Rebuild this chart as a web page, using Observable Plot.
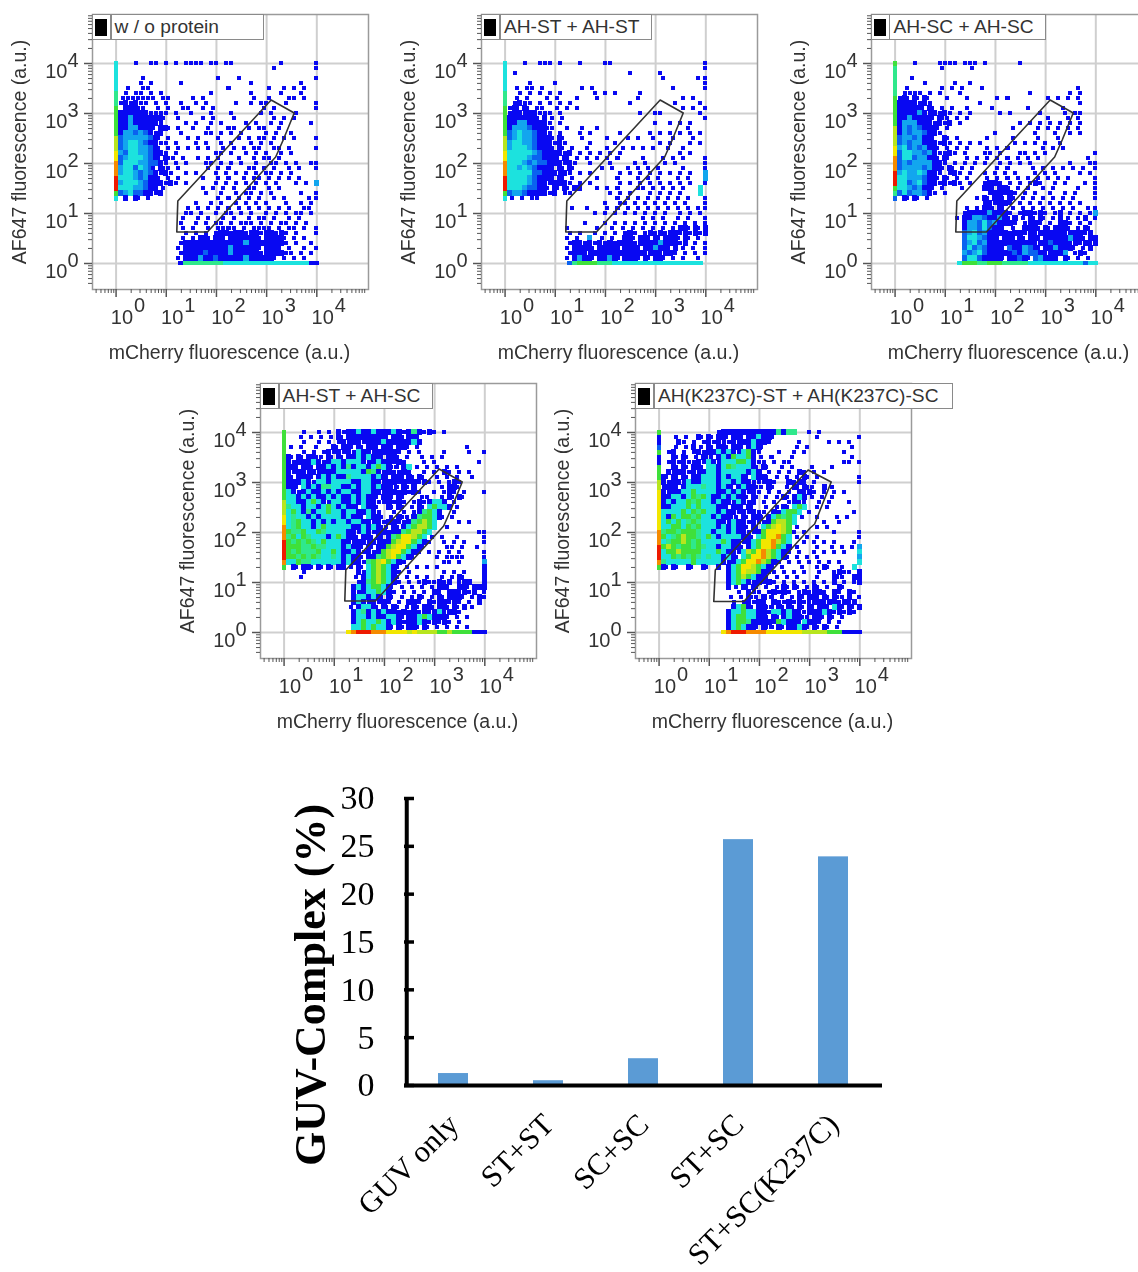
<!DOCTYPE html>
<html><head><meta charset="utf-8">
<script src="https://cdn.jsdelivr.net/npm/d3@7"></script>
<script src="https://cdn.jsdelivr.net/npm/@observablehq/plot@0.6"></script>
<style>
html,body{margin:0;padding:0;background:#fff}
#page{position:relative;width:1138px;height:1272px;overflow:hidden;background:#fff}
.panel{position:absolute;width:460px;height:370px;filter:blur(.45px)}
.panel svg{display:block;overflow:visible;background:transparent;max-width:none}
.legend{position:absolute;box-sizing:border-box;height:26px;background:#fff;border:1.5px solid #8a8a8a;display:flex;align-items:center;font:19.2px "Liberation Sans",sans-serif;color:#333;white-space:nowrap}
.legend i{display:block;width:12px;height:17px;background:#000;margin:0 3px 0 2px}
.legend b{display:block;width:1.5px;height:100%;background:#8a8a8a;margin-right:3px}
.bars{position:absolute;width:1138px;filter:blur(.3px)}
.bars svg{display:block;overflow:visible;background:transparent;max-width:none}
</style></head><body><div id="page"></div>
<script>
// Scatter occupancy: rows are AF647 log10 = 4.0 down to 0.1, columns mCherry log10 = 0.1 to 4.0.
// '.' empty, 1 a lone event, b..8 rising density.
const gridNoProtein = [
"...1..11.1 .1.1111.1 1.11...... ...1...... 1.1.1..11",
".......... .......... .......... .1.......1",".......... .......... .......... ..........",
".....1.... .......... 1...1..... .........1","....1.1... ..1....... ......1... ......1...",
"..1..11... .......... ..1....... 1..1.1.1..",".1.11.1.1. ........1. ......1... ..1...1...",
".1111111.1 1....1.1.. .......1.. 1...11.1..","1b1b11.1.1 ..1..1.1.. ...1..1.11 ...1.....1",
".bbb11..1. 1..11..1.1 .........1 .1.......1","bbbbbb1111 .1..1...1. ..1.....1. 1....1....",
"bb2bbbbbb1 ..1....1.1 ...1...... .1.1.1....","bb2bbbbb1. ...1.1..1. 1....1.1.. 1.1.....1.",
"bb22bbb1bb 1.1..1..1. ..11..1.11 ..1.......","b22a2ab1b. ..1....11. 1.1.1....1 .1..1.....",
"a22222ab1. 1...1.1... 1...1.1.11 .1.1.1...1","a2332abb11 .1...1.1.. 1.1...1.1. 1.........",
"a23322ab1. 1.1.1.1.1. .1.1.1.11. .11.1....1","2a3322abb1 .1.......1 1.1..1.1.1 ..1.1.....",
"a23332ab1b 11.1..1.1. 1...1..1.1 1.1.......","a33322aab1 .1.1...11. 1.1.1..1.. 11.1.1..11",
"233a32a1b1 1.1.....1. 1.1...11.1 .1..1.1..1","2332a2ab1b 1..1.1...1 .1.1.1.1.1 1.1.1.....",
"3332a2bb1. 1.1....1.. 1.1..1.11. 1.1.1.1...","23332abbb1 b1.1.....1 .1.1.1.1.1 .1...1.1.2",
"33322abb.1 .......1.1 .1.1..11.. 1.1.......","a23aabb1b. .......1.. 1..1.11.1. 1.....1..1",
".b.b1.1... .......... 1.1.1.1.1. .1.1....11",".......... .....1..1. 1..1.1.1.1 ...1..1.1.",
".......... ....1.1.1. 1.1.1.1.1. 1.1.1..11.",".......... ...11.1..1 .11.1.1..1 .1.1.11.1.",
".......... ...1..1.1. .1.1..1.11 .1..1.1...",".......... ..1..1.1.1 1.1.111.1. 1.11.1.1..",
".......... ...1.1..1. 1111.1.111 1.1.11.1.1",".......... ...1.1.1.1 bb1bb1bb1b b1b1.1...1",
".......... ...1.1bb1b b1bbbbbb1b bbb1.1.1..",".......... ..1bbbbbbb bbbbb2bbbb bbb1.1..1.",
".......... ..1bbbbbbb bb2bbbbb1b bb1.1..1.1",".......... ..1bbbbabb bb2bbbbb1b bbb11.1.1.",
".......... ..1bbb2bba bbbbb2bbbb b1.1.1.1.."];
const gridSTST = [
"...1..111. 1...1....1 1......... .........1",".......... .......... .......... .........1",
".1........ .......... ....1..... 1.........",".......... .......... .......... .1......11",
"....1....1 .......... .......... .........1","..1.11.1.. .....1.1.. .......... ...1.....1",
"..1.1.1.1. 1......1.1 .1....1... ..........","..1.1...1. 1...1...1. ......1... .....1.1..",
".1b11.1.1. 1.1....... ....1..... ...1....1.","1b1b1.11.. 1.1.1..... .......... .....1.1.1",
"1bb1bb111. 1......... ......1..1 1.......1.","bbbbbb1b.1 .1........ .......... .........1",
"bb22bbbb1. 1......... .........1 ..1.1.1...","b222abbb11 ..1..1..1. .......... ......1...",
"a2322abb1. 1...1.1... ..1.....1. 1.1.1.1.1.","a2322abbb1 b1...1.... 1...1.1..1 ...1...1..",
"23322abbb1 b1....1... .1........ 1.1...1.1.","23332abbb1 b1.1..1... 1..1.1.1.1 ..1..1....",
"333332abbb b1b.1.1.1. 1.1....... ....1.1...","33332aabbb 1b1.1.1.1. 1.1....1.. .1.1.1...1",
"3332a2aabb b1b1..1... 1....1.1.. .1.1.....1","33232abbb1 b1b1.....1 .1..1.1.1. 1....1...1",
"33333aabbb 1b1.1.1... ..1.1.1.1. 1.1.1.1..2","33332abbb1 b1.1....1. ..1...1.1. 1...1.1..2",
"33332abb1b bb1.1.1... ..1.1.1.1. 1.1.1.1..1","3332aabb1b 1b1bb...1. 1.1...11.1 .1.1.1..3.",
"a22abbbb1b .11....... 1.1.1...1. 1.1.1...3.",".1.1.11... .......... ..1.1.1.1. 1.1.1.1..1",
".......... .........1 ..11.1.1.1 .1.1.1...1",".......... ...1..1... 1.1.1.1.1. 1.1.1.1.11",
".......... .......1.1 .1.1.1.1.1 .1..1.1.1.",".......... .......... .......1.1 .1..1.1..1",
".......... .....1...1 .1.1.1.1.1 .1.1.1.1.1",".......... ..1.....1. .1.1.1.1.1 .1.1bb1b1b",
".......... ..1.1..1.1 .1.1b1.1b1 b1bb1b1b1b",".......... ..1.1.2..1 .1.bb1bb1b 1bbb1b1.1.",
".......... ..1bb1b1b1 b1bbb1bbbb 2bbb1b.1.1",".......... ..1bbbb1bb bb1bbb1bb2 bb1b.1.1.1",
".......... ..1bbb1bbb b1b1bbb1bb 1bb1.1.1.1",".......... ..1b2bb1bb 2b1bbb1b1b b1.1.1..1."];
const gridSCSC = [
"...1....11 11.111.1.. ....1..... ..........",".........1 .....1.... .......... ..........",
".......... .......... .......... ..........","...1...... .......... .......... ..........",
".....1.... .1..1..... .......... ..........","..1......1 .1.1...1.. .......... ......1...",
".1111.1.1. ..1....... ......1... ....1.1...","1b1b1b1... 1...1..... 1.1....... 1.1.1.1...",
"bbbb1b1... ......1... .......... ......1...","bbbbb1b1.1 .1..1....1 ......1... ...1......",
"bbbb2b1b1b 1.1.1..... 1.1.....1. ...1.11...","bb2bbbb1b1 1.1.1..... .......... 1...1.1...",
"b222bbb1b1 b.1....... ....1.1.1. 1.1.1.1...","b2a2abbb1. 1......... ...1....1. 1.1.1.1...",
"b2a22abb1. .........1 .......1.. .1..1.1...","a22a2bb1.b 1.1.....1. ...1....1. ..1.......",
"a2a22bbb1b 1.1.1.1... ...1.1.1.1 ..1.......","23a2a2bb1. 1.1.1...1. 1.1......1 .1.1......",
"a3322a2b11 b1.1...11. 1...11.1.1 .........1","a33a22bb1b 1...1.1.1. 1.1.1.1.1. ........1.",
"a2a2222bb1 .1.1.1.1.. 1.1.1.1... ....1...11","a2222a2bb1 b1.1.1.... 1.1....1.1 .1.1.1.1.1",
"232232bb1. 1b1.1..1.1 .1.1...1.1 .1....1.1.","33222abb1b 1.1.1...1. 1.1.1.1.1. 1.1.1....1",
"33a23abb1b 1b1.1..1bb 1.1.1.1b1. .1.1...1.1","332a2bb1.1 ...1...bb1 bb1.1.1..1 .1....1..1",
"a3a22ab1.1 ........1b b1b1.1.1.. 1..1.1...1",".b1b1.1... ......1b1b b1b1.1.1.1 .1.1.1...1",
".......... .......1b1 bb1.1.1.1. 1.1.1.1...",".......... ....1.1bb1 b1.1.1.1.1 .1.1.1..11",
".......... ...1bbbb2b bb1.1bb1b1 .1b.1.1.12",".......... ..1bb22abb 2b1b.1b1b1 .1b.1.1b.1",
".......... ...b22a3a2 bbb1.1bb1. 1.bb1.1.1.",".......... ...b22a3ab b1.1.bbb1b 1bbb1.1b1.",
".......... ...a23a2bb bb1bb1b1bb bbb1bbb1b.",".......... ...a332abb 1bb1b1bb1b bbbb2bb1bb",
".......... ...a23a2bb bb1b1bb1bb abbb1b1b1b",".......... ...a3a2abb b1abb2ab1b b2bbb1.1b.",
".......... ...2a23abb 1b1ab2aab1 bbb2.1b1..",".......... ...a33abbb b1bbab1a2b bb.b1.1.1."];
const gridSTSC = [
"...1..1.1. b1bb3bb3bb b3b1b4b1b1 .1........","...1.1.1.1 b1bbbbbbbb 1bb1bb1.. ..........",
"...1..1.1. 1b1bb1bbb3 bb1bb3b... ..........",".1.1..1..b 1bb1b1bb1b b1bb1.1.. .......1..",
"...1.1.1b1 b1b13bb1bb 1b1.1.1... .1....1..1","b1b1bb11b1 b1bb3b3bb1 bb1.1..1.1 .1........",
"b1bbb3b1b3 3b333b1b3b b1b1...1.1 ........1.","bb1bb1bb3b 3b4b33b3g3 b11b3.1.1. 1.1.1.....",
"b1bb1b1bbb 33333bg4b1 b11b1..1.1 .b1.1.1...","b1bbb1b3b3 bb43333b3b 1bb1b1b1.. 1.1.1..1..",
"bbb3b133b3 333bb33bb1 bb1b1b1b1. 1.1b1.....","bb13b3b443 3bb3b33b3b b11b1b.... .1bb1.....",
"3b1b3bb3b3 b33bb33bb1 bb1b1b1..1 .1b1.1...1","33b3b3bb3b 3bb3b3bb1b b1b1...11. .1b1b1....",
"33bb3g3b13 3bb3b3bb11 b1b1.1b1b3 3b.1......","433b33b3g3 b3bb13bb1. b1b1.1b13g 33b.1.....",
"3g3b4b33g3 3b33bb3b1. .1.1.1b4g3 b..1......","3433b3b333 3b3bb13bb1 .1b11b4gg3 b1.1......",
"34g33b3b3b 33b33bb1b1 bb11b4g5g3 ....1.1...","34g33b3g33 333bb3b3b1 1b1b3g55g3 ..1.......",
"g44g33g433 33bb13b1bb 1bb4g55g3. ........11","4g3g4333b3 g3bb1bb1b1 b4g665g3.1 .1..1....1",
"g4g4g43g33 3bb1bb1b1b bg566g3b1. .1.1.1...1","ggg44g4433 3b3bb1b1bb g566g3b1.. ..11.1..1.",
"g4g444g33g 3bb3b1b1bg 566g3b1.1. 1.1.1....1","gg4g4g4334 3b3bb1bb4g 56g3b1.... 1.1111...1",
"33g4433333 3b3bb14g56 g3b1...... .11.1....2",".b1bb1b1b1 bb.1b13g5g 3b1.1.1.1. 1........b",
"...1...... ....b13g5g 3b1.1..... .1.1.1...b","...1...... ....1b3g5g 3b1.1.1.1. .1.1b1...b",
".......... ....1b4g5g 3b1.1.1b11 b1b.1bb..b",".......... ...b3b3gg3 b1.1.1.1.1 bb1.bb1bbb",
".......... ...b1b33g3 b1.1.1.1.b 1.bb1b1b.1",".......... ...b33b3b1 b1.1.1b1.1 b1bbb1.1b1",
".......... ...b3b1b1b 1.1.bb1.b1 bb1b1.1.b.",".......... ...1b33b1b 1b1.1b1bb1 bb1b1b.1..",
".......... ...b34b3b3 bb1b1b1b1b 31bb1.....",".......... ...b33b3bb 33b1bb3g3b bb1.1.1...",
".......... ...b3g33g3 b3b1bb3b1b 1b1.1.....",".......... ...33g3g33 b1b1bb1b1. 1.1.1.1..."];
const gridK237C = [
".......... .1bbbbbbbb bbb4b44..1 .1........","...1.1.b1b 1bb1bb1bb3 bb1....... .1.......1",
"...b1.1.1b 1b11b1bb3b b1.....1.. ...1.1.1..","...1.1b.1b 1bb1bb1b3b 1......1.1 ........1.",
".1b.1.1b1b b3b3b13gb1 ...1..1.1. ......1...","..b1b1.1b1 1b3bg33gb. 1.1...1... ........1.",
".1b1b11b13 b1333gg3b1 1.1.11.... ......11.1","..b1b1bb13 3b3g4333b1 b1..1.1... 1...1.....",
".b1bb1b1b3 3b33333b3b .1.1.1.b1. 1.1.......","b1b1b1bb33 3b3b33b13b b1.1.1.1b1 .1.......1",
"b1bb13bb33 3b33b3bb11 1b1..b1b1. 1........1","1bb1b33343 3b3b1b3bb1 1b1..1b1b1 1.b.1.....",
"b1bb33g333 3bb3b3b1b1 .1.1.1.b1b 1.1.1.1...","bb33b3g4g3 bb3b3bb1b1 .1.1b1b3b. 1.1.1.....",
"b3b33g4g33 b3bb13b1b. 1.1..1b11. .1.1...1..","bb333g3g33 3bb1bb1b1. .1.1b13g3. .1.1......",
"3333g3g4g3 3b3bb1b1b1 1.b13gg3.1 ........1.","3bg3gg4g33 b3bb11b1bb 1b3g4g3.1. .1...1.1..",
"3g3g34g433 3bb13bb1b1 1bg55g3... ..1..1....","33gg3g4g33 3b3b3bb1b1 3g565g.1.. .1.1......",
"4gg4ggg433 b33b3bb11b g6665g1.1. ....1....1","g34g5gg43g 3b3333bb13 g667g3.1.1 .1.......1",
"34gg5g4g33 33g3bb1b3g 6675g3..1. 1.1.1...1.","g5g4gg4g43 3b33bb1b3g 667g3b.1.. .1..1.1.12",
"3gg5gggg33 3g3bb135g6 75g3b1.1.. 1.1.1.1..3","33g4g4g434 33b3b13g66 75g3b1.1.1 .1.......2",
"433333g333 33b1b3g667 5gb1.1.1.1 .1.1.1...3","b1b1.b1.b1 .b.b3g665g 3b1.1...1. .1b1..1.3.",
".......... ...b3g655g b11.1.1.1. .1..1b11.b",".......... ...b3g5g3b b1.1.1.1.. .1..b11.bb",
".......... ...b3g3b1b 1b1.1.1.1. 1.1.b.1.1b",".......... ...b.1b1b1 .1.1b1b1.1 b1.1.b1...",
".......... .....1.b11 .1b1b1.1b1 bb1.b1.b1.",".......... ....1.1b11 b.1.1.1b1b b1b1b11b.1",
".......... ....1.1b1b 1.b11b1b11 bb1bb1b1b.",".......... ....b3gb1b b11b1b1b1b 1bb13b1b1b",
".......... ...b33g33b b133b3b11b bb3b1b1b1.",".......... ...b3gg33b b1b1b3bb11 bb1b1.1...",
".......... ...b3gg4bb bb1g3bb13b b1.1.1....",".......... ...b3g3bb1 b11b1bb3b1 b1b1.1...."];

// Axis pile-ups: events at mCherry = 1 (AF647 log10 4.0 down to 1.3), events at AF647 = 1 (mCherry log10 1.3 to 4.0).
const leftStrips = ["333333444gggggg55566777888g3","333333444gggggg55566777888g3","g444444gggggg555566777888g4a","gggggggggggggg5556677788887g","gbbagbbggg55666666667778887g"];
const bottomStrips = ["b4444444433333333333333333bb","a4gggg444333333333333333333","3ggg44ggg4444433333333333a33","678887776666565555gg5ggggbbb","678887777666666655555gggbbbb"];

const densityColors = {"1":"#0808f2",b:"#0808f2",a:"#0a62f0","2":"#12a6ee","3":"#1ce2de","4":"#2fe88c",g:"#3fe03a","5":"#b7e51e","6":"#f2e600","7":"#f58a00","8":"#ee1a00"};

const panelNames = ["w / o protein","AH-ST + AH-ST","AH-SC + AH-SC","AH-ST + AH-SC","AH(K237C)-ST + AH(K237C)-SC"];
const panelGrids = [gridNoProtein,gridSTST,gridSCSC,gridSTSC,gridK237C];
const panelPlace = [[0,0,172],[389.4,0,171],[778.9,0,175],[168.1,369,173],[543.4,369,318]];

// Gate vertices as log10 mCherry, log10 AF647
const gateStandard = [[1.23,1.25],[1.21,.63],[1.82,.63],[3.18,2.13],[3.33,2.47],[3.55,3.01],[3.09,3.27],[1.23,1.25]];
const gateK237C = [[1.12,1.25],[1.09,.62],[1.69,.62],[3.01,2.09],[3.1,2.17],[3.43,3.01],[2.97,3.25],[1.12,1.25]];
const panelGates = [gateStandard,gateStandard,gateStandard,gateStandard,gateK237C];

const decades = [0,1,2,3,4];
const decadeValues = [1,10,100,1000,10000];
const minorValues = [.4,.5,.6,.7,.8,.9,2,3,4,5,6,7,8,9,20,30,40,50,60,70,80,90,200,300,400,500,600,700,800,900,2000,3000,4000,5000,6000,7000,8000,9000,20000,30000,40000,50000,60000,70000,80000,90000];

const barCategories = ["GUV only","ST+ST","SC+SC","ST+SC","ST+SC(K237C)"];
const barValues = [1.25,0.5,2.8,25.7,23.9];
const barTicks = [0,5,10,15,20,25,30];

function gridCells(rows){
  const out=[];
  rows.forEach((row,r)=>{
    [...row.replace(/ /g,"").slice(0,40)].forEach((c,i)=>{
      if(c!==".") out.push({lx:.1*(i+1)+(c==="1"&&r%2&&i<39&&i>0?-.05:0),ly:4-.1*r,c});
    });
  });
  return out;
}
const sans='"Liberation Sans",Arial,sans-serif';
const ink="#333";
const page=document.getElementById("page");
const halfSize={"1":.04};

panelNames.forEach((name,p)=>{
  const [left,top,boxW]=panelPlace[p];
  const cells=gridCells(panelGrids[p]);
  const half=d=>halfSize[d.c]||.051;
  const leftCells=[...leftStrips[p]].map((c,i)=>({ly:4-.1*i,c}));
  const botCells=[...bottomStrips[p]].map((c,i)=>({lx:1.3+.1*i,c}));
  const chart=Plot.plot({
    width:460,height:370,
    marginLeft:92,marginRight:92,marginTop:14,marginBottom:81,
    x:{type:"log",domain:[10**-.47,10**5.03],axis:null},
    y:{type:"log",domain:[10**-.52,10**4.98],axis:null},
    style:{fontFamily:sans,background:"transparent",maxWidth:"none"},
    marks:[
      Plot.ruleX(decadeValues,{stroke:"#cfcfcf",strokeWidth:2}),
      Plot.ruleY(decadeValues,{stroke:"#cfcfcf",strokeWidth:2}),
      Plot.frame({stroke:"#9a9a9a",strokeWidth:1.5}),
      Plot.axisX({ticks:minorValues,tickSize:4,tickFormat:()=>"",label:null,stroke:"#555",strokeWidth:1}),
      Plot.axisX({ticks:decadeValues,tickSize:8,tickFormat:()=>"",label:null,stroke:"#555",strokeWidth:1.5}),
      Plot.axisY({ticks:minorValues,tickSize:4,tickFormat:()=>"",label:null,stroke:"#555",strokeWidth:1}),
      Plot.axisY({ticks:decadeValues,tickSize:8,tickFormat:()=>"",label:null,stroke:"#555",strokeWidth:1.5}),
      Plot.rect(cells,{x1:d=>10**(d.lx-half(d)),x2:d=>10**(d.lx+half(d)),y1:d=>10**(d.ly-half(d)),y2:d=>10**(d.ly+half(d)),fill:d=>densityColors[d.c],shapeRendering:"crispEdges"}),
      Plot.rect(leftCells,{x1:()=>10**-.04,x2:()=>10**.04,y1:d=>10**(d.ly-.05),y2:d=>10**(d.ly+.05),fill:d=>densityColors[d.c],shapeRendering:"crispEdges"}),
      Plot.rect(botCells,{x1:d=>10**(d.lx-.05),x2:d=>10**(d.lx+.05),y1:()=>10**-.035,y2:()=>10**.035,fill:d=>densityColors[d.c],shapeRendering:"crispEdges"}),
      Plot.line(panelGates[p],{x:d=>10**d[0],y:d=>10**d[1],stroke:"#333",strokeWidth:1.6}),
      Plot.text(decades,{x:d=>10**d,frameAnchor:"bottom",lineAnchor:"bottom",text:()=>"10",textAnchor:"end",dx:17,dy:34,fontSize:20,fill:ink}),
      Plot.text(decades,{x:d=>10**d,frameAnchor:"bottom",lineAnchor:"bottom",text:d=>String(d),textAnchor:"start",dx:18,dy:22,fontSize:20,fill:ink}),
      Plot.text(decades,{y:d=>10**d,frameAnchor:"left",lineAnchor:"bottom",text:()=>"10",textAnchor:"end",dx:-25,dy:14,fontSize:20,fill:ink}),
      Plot.text(decades,{y:d=>10**d,frameAnchor:"left",lineAnchor:"bottom",text:d=>String(d),textAnchor:"start",dx:-25,dy:3,fontSize:20,fill:ink}),
      Plot.text(["mCherry fluorescence (a.u.)"],{frameAnchor:"bottom",lineAnchor:"bottom",dx:-1,dy:69,fontSize:19.5,fill:ink}),
      Plot.text(["AF647 fluorescence (a.u.)"],{frameAnchor:"left",textAnchor:"middle",rotate:-90,dx:-73,fontSize:19.5,fill:ink})
    ]
  });
  const wrap=document.createElement("div");
  wrap.className="panel";
  wrap.style.left=left+"px";wrap.style.top=top+"px";
  wrap.appendChild(chart);
  const lg=document.createElement("div");
  lg.className="legend";
  lg.style.left="92px";lg.style.top="14px";lg.style.width=boxW+"px";
  lg.innerHTML="<i></i><b></b><span></span>";
  lg.querySelector("span").textContent=name;
  wrap.appendChild(lg);
  page.appendChild(wrap);
});

const barData=barCategories.map((c,i)=>({c,v:barValues[i]}));
const bars=Plot.plot({
  width:1138,height:502,
  marginLeft:404,marginRight:256,marginTop:28,marginBottom:187,
  x:{domain:barCategories,paddingInner:.686,paddingOuter:.343,axis:null},
  y:{domain:[0,30],axis:null},
  style:{fontFamily:'"Liberation Serif",serif',background:"transparent",maxWidth:"none"},
  marks:[
    Plot.barY(barData,{x:"c",y:"v",fill:"#5b9bd5"}),
    Plot.ruleY([0],{stroke:"#000",strokeWidth:4}),
    Plot.axisY({ticks:barTicks,tickSize:10,dx:10,tickFormat:()=>"",label:null,stroke:"#000",strokeWidth:3.5}),
    Plot.axisY({ticks:barTicks,tickSize:0,tickPadding:30,fontSize:34,label:null,fill:"#000",stroke:"none"}),
    Plot.ruleX([barCategories[0]],{y1:0,y2:30,stroke:"#000",strokeWidth:4,dx:-46.75}),
    Plot.text(["GUV-Complex (%)"],{frameAnchor:"left",textAnchor:"middle",rotate:-90,dx:-94,dy:43,fontSize:44,fontWeight:"bold",fill:"#000"}),
    Plot.text(barCategories,{x:d=>d,frameAnchor:"bottom",lineAnchor:"middle",rotate:-45,textAnchor:"end",dx:0,dy:34,fontSize:30.5,fill:"#000"})
  ]
});
const bw=document.createElement("div");
bw.className="bars";bw.style.left="0";bw.style.top="770px";
bw.appendChild(bars);
page.appendChild(bw);
</script></body></html>
